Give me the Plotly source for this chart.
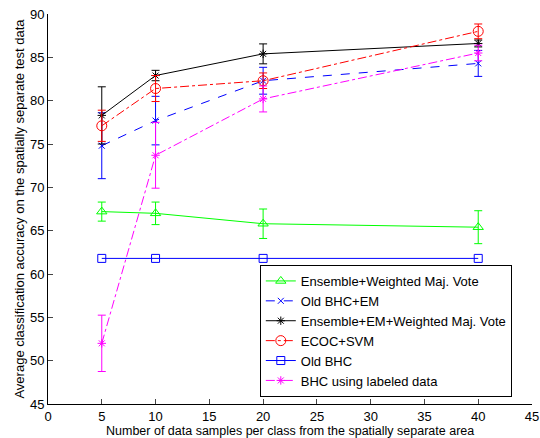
import plotly.graph_objects as go

x_vals = [5, 10, 20, 40]

names = [
    "Ensemble+Weighted Maj. Vote",
    "Old BHC+EM",
    "Ensemble+EM+Weighted Maj. Vote",
    "ECOC+SVM",
    "Old BHC",
    "BHC using labeled data",
]

ens_wmv = [67.2, 67.0, 65.8, 65.4]
ens_wmv_err = [1.1, 1.3, 1.7, 1.9]

old_bhc_em = [74.8, 77.7, 82.3, 84.3]
old_bhc_em_err = [3.8, 2.8, 1.55, 1.5]

ens_em_wmv = [78.3, 82.9, 85.4, 86.6]
ens_em_wmv_err = [3.3, 0.6, 1.15, 0.4]

ecoc_svm = [77.1, 81.4, 82.3, 88.0]
ecoc_svm_err = [1.8, 1.5, 0.9, 0.85]

old_bhc = [61.8, 61.8, 61.8, 61.8]

bhc_labeled = [52.0, 73.7, 80.2, 85.5]
bhc_labeled_err = [3.25, 3.8, 1.5, 0.9]

x_ticks = [0, 5, 10, 15, 20, 25, 30, 35, 40, 45]
y_ticks = [45, 50, 55, 60, 65, 70, 75, 80, 85, 90]

x_title = "Number of data samples per class from the spatially separate area"
y_title = "Average classification accuracy on the spatially separate test data"

series = [
    (ens_wmv, ens_wmv_err, "#00ff00", "solid", "triangle-up-open", 9),
    (old_bhc_em, old_bhc_em_err, "#0000ff", "dash", "x-thin-open", 6),
    (ens_em_wmv, ens_em_wmv_err, "#000000", "solid", "asterisk-open", 7),
    (ecoc_svm, ecoc_svm_err, "#ff0000", "dashdot", "circle-open", 10),
    (old_bhc, None, "#0000ff", "solid", "square-open", 8),
    (bhc_labeled, bhc_labeled_err, "#ff00ff", "dashdot", "asterisk-open", 7),
]

fig = go.Figure()
for name, (vals, err, color, dash, sym, size) in zip(names, series):
    kw = {}
    if err is not None:
        kw["error_y"] = dict(type="data", array=err, visible=True,
                             color=color, thickness=1, width=4)
    fig.add_trace(go.Scatter(
        x=x_vals, y=vals, name=name, mode="lines+markers",
        line=dict(color=color, width=1, dash=dash),
        marker=dict(symbol=sym, size=size, color=color,
                    line=dict(color=color, width=1)),
        **kw,
    ))

font_family = "Liberation Sans, Arial, sans-serif"
fig.update_layout(
    width=540, height=438,
    margin=dict(l=48, r=8, t=14, b=34),
    plot_bgcolor="white", paper_bgcolor="white",
    font=dict(family=font_family, size=13, color="black"),
    showlegend=True,
    legend=dict(
        x=0.4376, y=0.018, xanchor="left", yanchor="bottom",
        bordercolor="black", borderwidth=1, bgcolor="white",
        font=dict(size=13), tracegroupgap=0, itemwidth=30,
    ),
    xaxis=dict(
        range=[0, 45], tickvals=x_ticks, ticks="inside", ticklen=5,
        showline=True, linecolor="black", linewidth=1, mirror=False,
        showgrid=False, zeroline=False, tickfont=dict(size=13),
        automargin=False,
    ),
    yaxis=dict(
        range=[45, 90], tickvals=y_ticks, ticks="inside", ticklen=5,
        showline=True, linecolor="black", linewidth=1, mirror=False,
        showgrid=False, zeroline=False, tickfont=dict(size=13),
        title=dict(text=y_title, font=dict(size=13), standoff=2),
        automargin=False,
    ),
    annotations=[dict(
        text=x_title, xref="paper", yref="paper", x=0.5, y=-0.068,
        xanchor="center", yanchor="middle", showarrow=False,
        font=dict(size=12.5),
    )],
)

fig.write_html(
    "out.html",
    config={"displayModeBar": False},
    post_script="document.body.style.margin='0';document.body.style.padding='0';",
)
